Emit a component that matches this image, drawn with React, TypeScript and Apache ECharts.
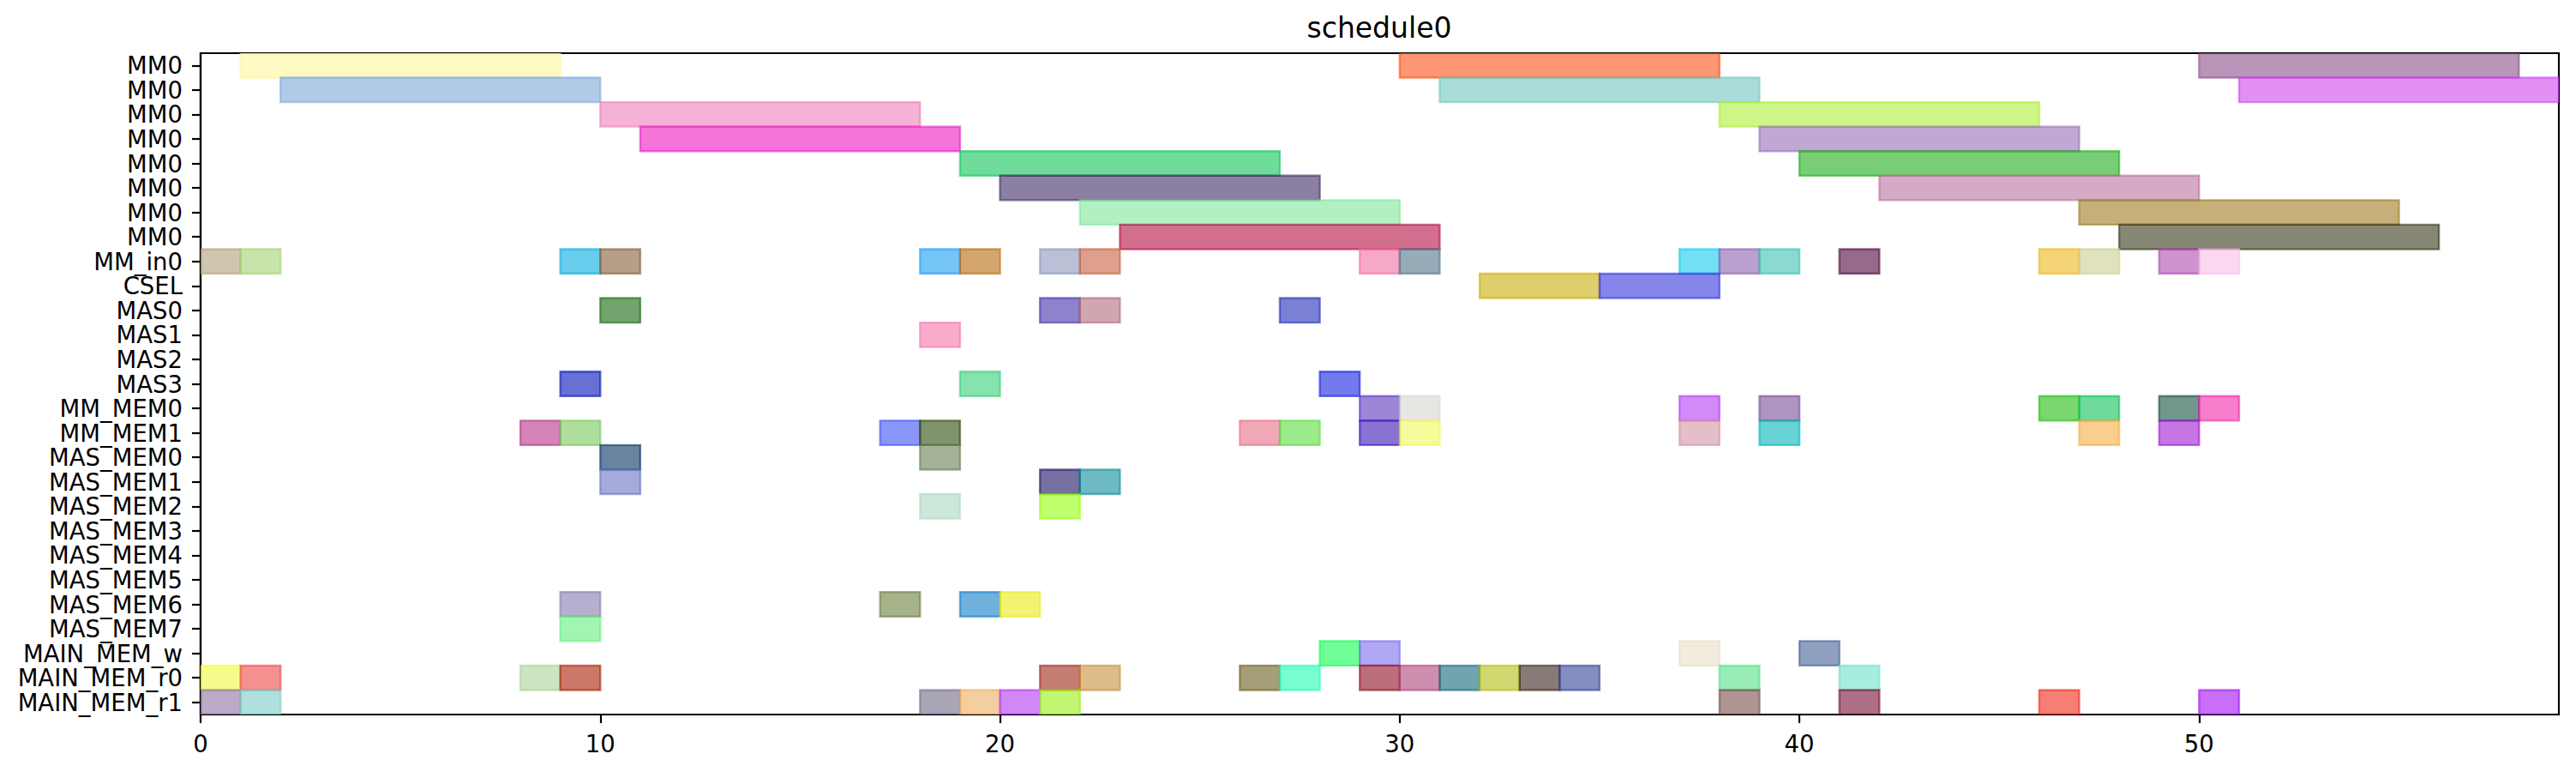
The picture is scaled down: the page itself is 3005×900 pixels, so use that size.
import React, { useEffect, useRef } from "react";
import * as echarts from "echarts";

const TITLE = "schedule0";

const categories: string[] = [
  "MM0", "MM0", "MM0", "MM0", "MM0", "MM0", "MM0", "MM0",
  "MM_in0", "CSEL", "MAS0", "MAS1", "MAS2", "MAS3",
  "MM_MEM0", "MM_MEM1",
  "MAS_MEM0", "MAS_MEM1", "MAS_MEM2", "MAS_MEM3", "MAS_MEM4", "MAS_MEM5", "MAS_MEM6", "MAS_MEM7",
  "MAIN_MEM_w", "MAIN_MEM_r0", "MAIN_MEM_r1",
];

const xMin = 0;
const xMax = 59;
const xTicks = [0, 10, 20, 30, 40, 50];

// [categoryIndex, start, end]
const tasks: [number, number, number][] = [
  [0, 1, 9], [0, 30, 38], [0, 50, 58],
  [1, 2, 10], [1, 31, 39], [1, 51, 59],
  [2, 10, 18], [2, 38, 46],
  [3, 11, 19], [3, 39, 47],
  [4, 19, 27], [4, 40, 48],
  [5, 20, 28], [5, 42, 50],
  [6, 22, 30], [6, 47, 55],
  [7, 23, 31], [7, 48, 56],
  [8, 0, 1], [8, 1, 2], [8, 9, 10], [8, 10, 11], [8, 18, 19], [8, 19, 20], [8, 21, 22], [8, 22, 23],
  [8, 29, 30], [8, 30, 31], [8, 37, 38], [8, 38, 39], [8, 39, 40], [8, 41, 42], [8, 46, 47], [8, 47, 48],
  [8, 49, 50], [8, 50, 51],
  [9, 32, 35], [9, 35, 38],
  [10, 10, 11], [10, 21, 22], [10, 22, 23], [10, 27, 28],
  [11, 18, 19],
  [13, 9, 10], [13, 19, 20], [13, 28, 29],
  [14, 29, 30], [14, 30, 31], [14, 37, 38], [14, 39, 40], [14, 46, 47], [14, 47, 48], [14, 49, 50], [14, 50, 51],
  [15, 8, 9], [15, 9, 10], [15, 17, 18], [15, 18, 19], [15, 26, 27], [15, 27, 28], [15, 29, 30], [15, 30, 31],
  [15, 37, 38], [15, 39, 40], [15, 47, 48], [15, 49, 50],
  [16, 10, 11], [16, 18, 19],
  [17, 10, 11], [17, 21, 22], [17, 22, 23],
  [18, 18, 19], [18, 21, 22],
  [22, 9, 10], [22, 17, 18], [22, 19, 20], [22, 20, 21],
  [23, 9, 10],
  [24, 28, 29], [24, 29, 30], [24, 37, 38], [24, 40, 41],
  [25, 0, 1], [25, 1, 2], [25, 8, 9], [25, 9, 10], [25, 21, 22], [25, 22, 23], [25, 26, 27], [25, 27, 28],
  [25, 29, 30], [25, 30, 31], [25, 31, 32], [25, 32, 33], [25, 33, 34], [25, 34, 35], [25, 38, 39], [25, 41, 42],
  [26, 0, 1], [26, 1, 2], [26, 18, 19], [26, 19, 20], [26, 20, 21], [26, 21, 22], [26, 38, 39], [26, 41, 42],
  [26, 46, 47], [26, 50, 51],
];

// apparent (blended on white) colours, one per task
const taskColors: string[] = [
  "#fff9c3", "#fc9673", "#b995b9",
  "#b0cae8", "#aaddd7", "#e290f4",
  "#f5b2d6", "#cdf687",
  "#f674da", "#c0a8d4",
  "#70dc9b", "#78ce76",
  "#8b80a3", "#d4aac4",
  "#b2f0c2", "#c4b078",
  "#d26e8e", "#878776",
  "#d0c6b0", "#c8e4aa", "#68ccec", "#b69e88", "#74c4f8", "#d4a66e", "#bac0d6", "#dea08c",
  "#f6a8c8", "#96acb8", "#72e0f4", "#baa0d0", "#8adad2", "#966a88", "#f4d476", "#e0e2be",
  "#ce92ce", "#fad8f0",
  "#e0ce6c", "#8686ea",
  "#72a46e", "#8e82cc", "#d0a6b0", "#7a80d4",
  "#faaccc",
  "#6870d6", "#86e2ae", "#727aec",
  "#9c86d8", "#e8e6e2", "#d28af8", "#ae94c0", "#7ad66e", "#6eda9c", "#72968c", "#f67ecc",
  "#d484b8", "#aede9c", "#8a96f8", "#80926a", "#f0a8b6", "#9cea8c", "#8872d2", "#f4fc9c",
  "#e4bec8", "#68d2d6", "#face8e", "#c676e4",
  "#6884a0", "#a4b298",
  "#a4aada", "#7670a0", "#6ebac2",
  "#cce8da", "#c0ff6e",
  "#b6b0ce", "#a6b28a", "#70b0dc", "#f2f470",
  "#a0f6b0",
  "#70fe96", "#b0a8f4", "#f2ecde", "#8ea0c0",
  "#f6fc8c", "#f49090", "#cce4c0", "#cc7868", "#c47e74", "#debc88", "#a69e76", "#78fed2",
  "#bc6e7a", "#ce8eae", "#70a4ae", "#d2d870", "#887a76", "#848ec0", "#98ecb6", "#a8ece0",
  "#bcaac6", "#b0e0de", "#aaa6b8", "#f4ce9e", "#d286f8", "#c2f672", "#ae9492", "#ae7086",
  "#f67e74", "#c86ef8",
];

const ALPHA = 0.6;
const FONT = "DejaVu Sans";

function baseRgba(hex: string): string {
  const h = hex.replace("#", "");
  const ch = [0, 2, 4].map((i) => parseInt(h.slice(i, i + 2), 16));
  const base = ch.map((v) =>
    Math.max(0, Math.min(255, Math.round((v - (1 - ALPHA) * 255) / ALPHA)))
  );
  return `rgba(${base[0]},${base[1]},${base[2]},${ALPHA})`;
}

export default function App() {
  const ref = useRef<HTMLDivElement>(null);

  useEffect(() => {
    if (!ref.current) return;
    const chart = echarts.init(ref.current, null, { renderer: "svg" });
    const colors = taskColors.map(baseRgba);

    chart.setOption({
      animation: false,
      backgroundColor: "#ffffff",
      textStyle: { fontFamily: FONT },
      graphic: [
        {
          type: "text",
          x: 1609,
          y: 16,
          style: {
            text: TITLE,
            fill: "#000",
            fontSize: 33,
            fontFamily: FONT,
            align: "center",
            verticalAlign: "top",
            textAlign: "center",
            textVerticalAlign: "top",
          },
        },
      ],
      grid: {
        left: 234,
        right: 20,
        top: 62,
        bottom: 67,
        show: true,
        borderColor: "#000",
        borderWidth: 2.2,
        backgroundColor: "transparent",
        containLabel: false,
        outerBoundsMode: "none",
      },
      xAxis: {
        type: "value",
        min: xMin,
        max: xMax,
        axisLine: { show: true, onZero: false, lineStyle: { color: "#000", width: 2.2 } },
        axisTick: { show: true, length: 10, customValues: xTicks, lineStyle: { color: "#000", width: 2.2 } },
        axisLabel: { color: "#000", fontSize: 27.5, fontFamily: FONT, margin: 20, customValues: xTicks },
        splitLine: { show: false },
      },
      yAxis: {
        type: "category",
        data: categories,
        inverse: true,
        boundaryGap: true,
        axisLine: { show: true, lineStyle: { color: "#000", width: 2.2 } },
        axisTick: { show: true, alignWithLabel: true, length: 10, lineStyle: { color: "#000", width: 2.2 } },
        axisLabel: { color: "#000", fontSize: 27.5, fontFamily: FONT, margin: 21, interval: 0 },
        splitLine: { show: false },
      },
      series: [
        {
          type: "custom",
          clip: true,
          encode: { x: [0, 2], y: 1 },
          data: tasks.map((t) => [t[1], t[0], t[2]]),
          renderItem: (params: any, api: any) => {
            const s = api.value(0);
            const row = api.value(1);
            const e = api.value(2);
            const p0 = api.coord([s, row]);
            const p1 = api.coord([e, row]);
            const h = api.size([0, 1])[1];
            const c = colors[params.dataIndex];
            return {
              type: "rect",
              shape: { x: p0[0], y: p0[1] - h / 2, width: p1[0] - p0[0], height: h },
              style: { fill: c, stroke: c, lineWidth: 2.4 },
            };
          },
        },
      ],
    });

    return () => chart.dispose();
  }, []);

  return (
    <div
      ref={ref}
      style={{ position: "fixed", left: 0, top: 0, width: 3005, height: 900, background: "#fff" }}
    />
  );
}
